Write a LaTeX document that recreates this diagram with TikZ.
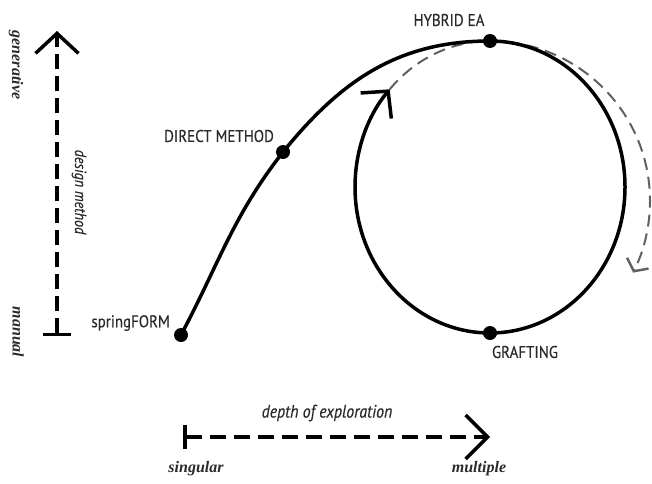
\documentclass[tikz,border=0pt]{standalone}
\usepackage{fontspec}
\setmainfont{PT Sans}
\newfontfamily\cond[FakeStretch=0.88,FakeBold=0.4]{PT Sans}
\newfontfamily\seri{Liberation Serif}
\usetikzlibrary{arrows.meta}
\definecolor{txt}{HTML}{2A2A2A}
\begin{document}
\begin{tikzpicture}[x=1pt,y=1pt,
  dot/.style={circle,fill=black,inner sep=0pt,minimum size=14pt},
  lab/.style={font=\cond\fontsize{17}{17}\selectfont,inner sep=0pt,text=txt},
  axlab/.style={font=\cond\itshape\fontsize{18}{18}\selectfont,inner sep=0pt,text=txt},
  endlab/.style={font=\seri\bfseries\itshape\fontsize{16}{16}\selectfont,inner sep=0pt,text=txt},
  axis/.style={line width=3.5pt,dash pattern=on 15pt off 7pt},
  mainline/.style={line width=3.5pt},
  grayline/.style={line width=2pt,draw=black!62,dash pattern=on 12pt off 7pt}]
\useasboundingbox (0,0) rectangle (652,483);
% points
\coordinate (sfp) at (181,148);
\coordinate (dmp) at (283,331);
\coordinate (hep) at (490,442);
\coordinate (grp) at (490,150);
\coordinate (ctr) at (490,296);
% gray dashed spiral
\draw[grayline,-{Straight Barb[length=9pt,width=24pt,line width=2.5pt]}]
  ([shift={(138:135pt and 146pt)}]ctr)
  arc[start angle=138,end angle=90,x radius=135,y radius=146]
  arc[start angle=90,end angle=-26.6,x radius=160,y radius=160];
% main curve
\draw[mainline] (sfp) to[out=62,in=-128] (dmp) to[out=51,in=180] (hep);
% circle
\draw[mainline,-{Straight Barb[length=19pt,width=40pt]}]
  (hep) arc[start angle=90,end angle=-222,x radius=135,y radius=146];
% dots
\node[dot] (sf) at (sfp) {};
\node[dot] (dm) at (dmp) {};
\node[dot] (he) at (hep) {};
\node[dot] (gr) at (grp) {};
% labels
\node[lab,anchor=east] (sfl) at (170,160) {springFORM};
\node[lab] (dml) at (219,347) {DIRECT METHOD};
\node[lab] (hel) at (449,463) {HYBRID EA};
\node[lab] (grl) at (525,131) {GRAFTING};
% vertical axis
\coordinate (vb) at (57,147);
\coordinate (vt) at (57,452);
\draw[axis,{Bar[width=28pt]}-{Straight Barb[length=20pt,width=43pt]}] (vb) -- (vt);
\node[axlab,font=\cond\itshape\fontsize{16}{16}\selectfont,rotate=-90] (dmeth) at (79,291) {design method};
\node[endlab,rotate=-90] (gen) at (16,418) {generative};
\node[endlab,rotate=-90] (man) at (18,151) {manual};
% horizontal axis
\coordinate (hl) at (183,46);
\coordinate (hr) at (490,46);
\draw[axis,dash pattern=on 16pt off 8pt,{Bar[width=24pt]}-{Straight Barb[length=22pt,width=44pt]}] (hl) -- (hr);
\node[axlab] (doe) at (327,70) {depth of exploration};
\node[endlab] (sing) at (196,14) {singular};
\node[endlab] (mult) at (479,14) {multiple};
\end{tikzpicture}
\end{document}
